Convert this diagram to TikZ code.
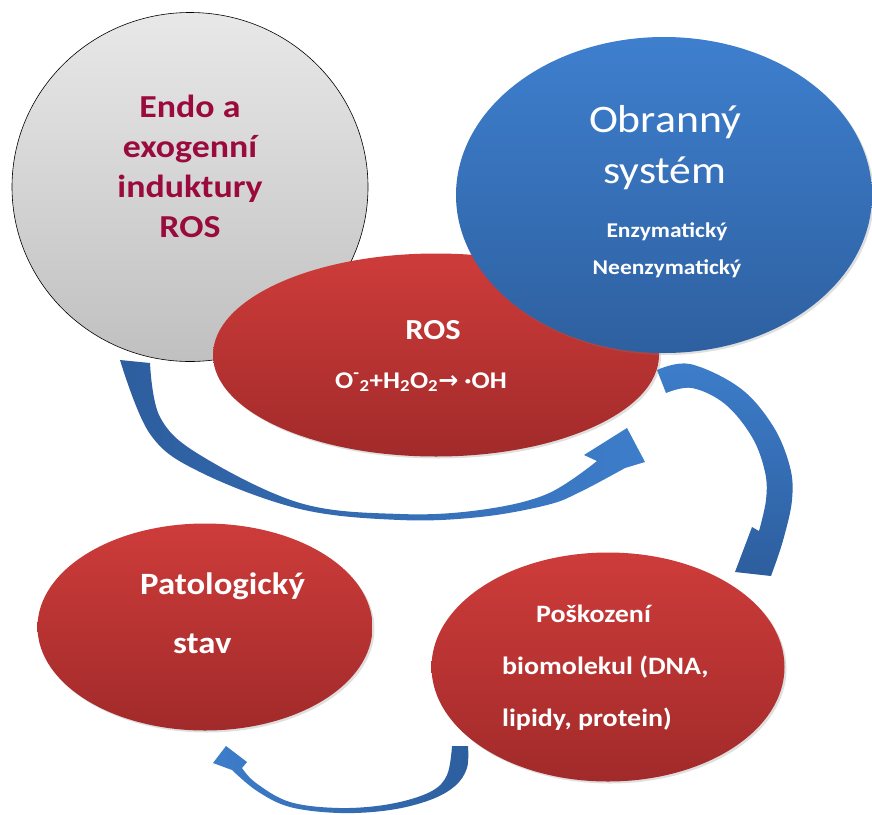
\documentclass[tikz,border=0pt]{standalone}
\usepackage{fontspec}
\setmainfont{Carlito}[FakeStretch=1.12]
\newfontfamily\arrowfont{DejaVu Sans}
\usepackage{tikz}
\usetikzlibrary{shapes.geometric, shadows, calc}
\definecolor{RedTop}{HTML}{CD3C3A}
\definecolor{RedBottom}{HTML}{A22A2A}
\definecolor{BlueTop}{HTML}{3E7FCE}
\definecolor{BlueBottom}{HTML}{2E60A0}
\definecolor{GrayTop}{HTML}{E8E8E8}
\definecolor{GrayBottom}{HTML}{C0C0C0}
\definecolor{Wine}{HTML}{9A0A3C}
\definecolor{ArrowDark}{HTML}{2D5E9E}
\definecolor{ArrowLight}{HTML}{3D7DCA}

\begin{document}
\begin{tikzpicture}[x=1pt, y=-1pt,
    blob/.style={ellipse, inner sep=0pt,
                 drop shadow={opacity=0.25, shadow xshift=2pt, shadow yshift=-2pt}},
    redblob/.style={blob, top color=RedTop, bottom color=RedBottom},
    whitetext/.style={text=white, inner sep=0pt}]
    \useasboundingbox (0,0) rectangle (872,814);

    % Curved arrows
    \shade[left color=ArrowDark, right color=ArrowLight]
        plot[smooth, tension=0.6] coordinates {(150,363) (160,417) (200,455) (300,503)
            (400,514) (480,510) (547,494) (597,461)}
        -- (584,455) -- (627,428) -- (645,462) -- (625,468)
        -- plot[smooth, tension=0.6] coordinates {(625,468) (580,492) (547,505)
            (480,517) (400,520) (300,509) (200,472) (150,434) (120,360)}
        -- cycle;

    \shade[top color=ArrowLight, bottom color=ArrowDark]
        plot[smooth, tension=0.6] coordinates {(657,370) (690,364) (740,388) (773,426)
            (790,467) (792,500) (784,537) (775,565)}
        -- (771,576) -- (735,572) -- (752,527) -- (759,531)
        -- plot[smooth, tension=0.6] coordinates {(759,531) (766,500) (765,472)
            (752,437) (725,404) (692,388) (666,393)}
        -- cycle;

    \shade[left color=ArrowLight, right color=ArrowDark]
        (452,746) -- (468,746)
        -- plot[smooth, tension=0.6] coordinates {(468,746) (467,768) (455,786) (430,800)
            (390,810) (340,813) (290,807) (257,791) (232,770)}
        -- (213,763) -- (226,746) -- (247,762) -- (242,768)
        -- plot[smooth, tension=0.6] coordinates {(242,768) (256,783) (290,802)
            (340,808) (390,804) (430,792) (447,775) (452,746)}
        -- cycle;

    % Inducers
    \node[ellipse, draw=black, line width=0.6pt, top color=GrayTop, bottom color=GrayBottom,
          minimum width=356pt, minimum height=349pt, inner sep=0pt] (endo) at (190,187) {};
    \node[text=Wine, font=\fontsize{32}{40}\selectfont\bfseries, align=center,
          inner sep=0pt] (endotxt) at (190,166) {Endo a\\exogenní\\induktury\\ROS};

    % ROS
    \node[redblob, minimum width=446pt, minimum height=203pt] (ros) at (436,355) {};
    \node[whitetext, font=\fontsize{29}{34}\selectfont\bfseries] (rostxt) at (433,330) {ROS};
    \node[whitetext, font=\fontsize{24}{28}\selectfont\bfseries] (rosreakce) at (421,382)
        {O\textsuperscript{-}\textsubscript{2}+H\textsubscript{2}O\textsubscript{2}{\arrowfont →} ·OH};

    % Defence
    \node[blob, top color=BlueTop, bottom color=BlueBottom,
          minimum width=416pt, minimum height=316pt] (obrana) at (664,195) {};
    \node[whitetext, font=\fontsize{39}{51}\selectfont, align=center] (obranatxt) at (665,148)
        {Obranný\\systém};
    \node[whitetext, font=\fontsize{21}{37}\selectfont\bfseries, align=center] (obranatyp)
        at (667,250) {Enzymatický\\Neenzymatický};

    % Damage
    \node[redblob, minimum width=353pt, minimum height=229pt] (poskozeni) at (608,667) {};
    \node[whitetext, font=\fontsize{25}{52}\selectfont\bfseries, align=left, anchor=west]
        (poskozenitxt) at (502,668) {\hspace*{34pt}Poškození\\biomolekul (DNA,\\lipidy, protein)};

    % Pathology
    \node[redblob, minimum width=335pt, minimum height=207pt] (patologie) at (205,627) {};
    \node[whitetext, font=\fontsize{31}{59}\selectfont\bfseries, align=left, anchor=west]
        (patologietxt) at (140,613) {Patologický\\\hspace*{33pt}stav};
\end{tikzpicture}
\end{document}
